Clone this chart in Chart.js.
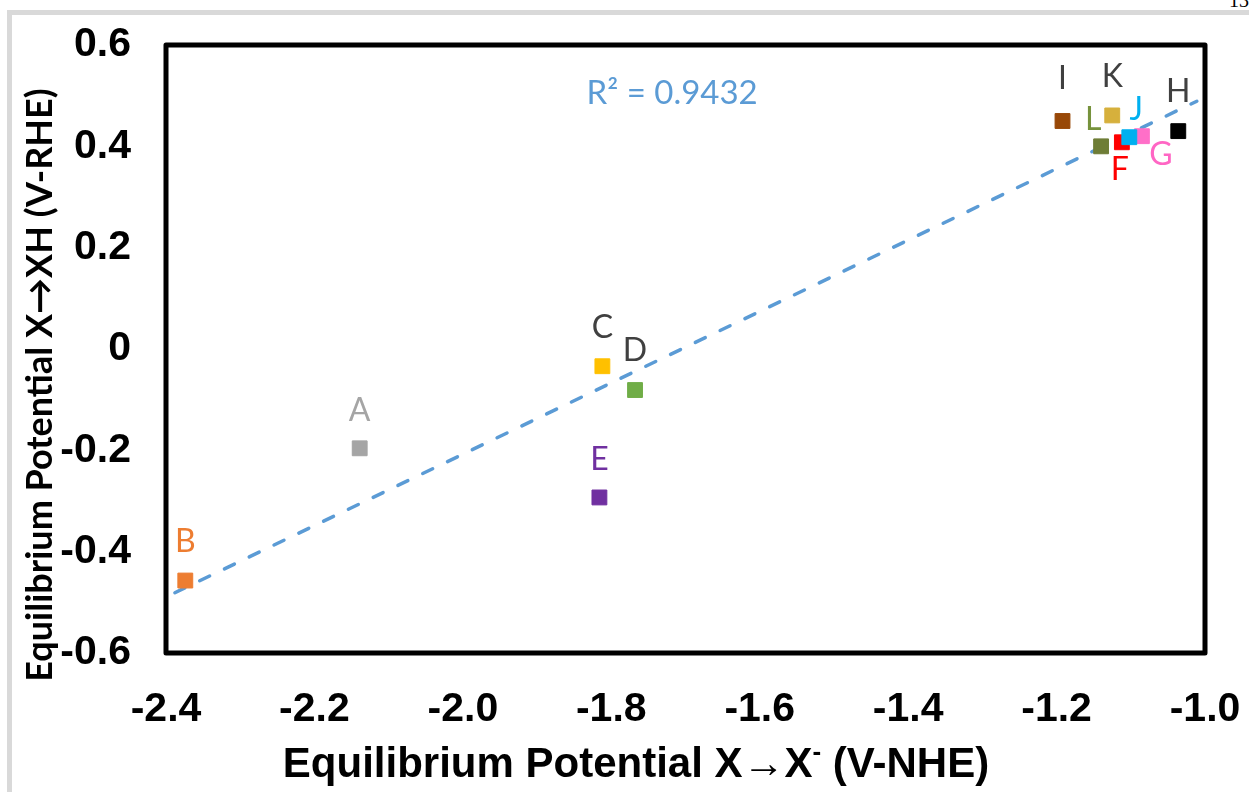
<!DOCTYPE html>
<html>
<head>
<meta charset="utf-8">
<script src="https://cdn.jsdelivr.net/npm/chart.js@4.4.0/dist/chart.umd.min.js"></script>
<style>
  html, body { margin: 0; padding: 0; background: #fff; overflow: hidden; }
  #frame { position: absolute; left: 7px; top: 10px; width: 1300px; height: 900px; border: 5px solid #d9d9d9; }
  #pageno { position: absolute; left: 1229px; top: -11px; font: 20px 'Liberation Serif', serif; color: #000; }
  #chart { position: absolute; left: 0; top: 0; }
</style>
</head>
<body>
<div id="frame"></div>
<div id="pageno">13</div>
<canvas id="chart" width="1249" height="792"></canvas>
<script>
// points
const pointNames = ['A', 'B', 'C', 'D', 'E', 'F', 'G', 'H', 'I', 'J', 'K', 'L'];
const xNHE = [-2.139, -2.374, -1.812, -1.768, -1.816, -1.112, -1.085, -1.036, -1.192, -1.102, -1.125, -1.140];
const yRHE = [-0.196, -0.457, -0.034, -0.081, -0.293, 0.408, 0.420, 0.430, 0.450, 0.418, 0.461, 0.400];
const pointColors = ['#a5a5a5', '#ed7d31', '#ffc000', '#70ad47', '#7030a0', '#ff0000',
                     '#ff6fc8', '#000000', '#984807', '#00b0f0', '#d6b03c', '#6e7d36'];
const labelColors = ['#a5a5a5', '#ed7d31', '#404040', '#404040', '#7030a0', '#ff0000',
                     '#ff66c4', '#404040', '#404040', '#00b0f0', '#404040', '#76923c'];
// label offsets from the marker, px
const labelOffsets = [[0, -38], [0, -39], [0, -39], [0, -39], [0, -38], [-2, 27],
                      [19, 18], [0, -39], [0, -42], [7, -28], [0, -39], [-8, -27]];

// linear trendline ends
const trendX = [-2.388, -1.011];
const trendY = [-0.481, 0.489];
const r2Text = 'R\u00b2 = 0.9432';

const xTitle = ['Equilibrium Potential X\u2192X', '-', ' (V-NHE)'];
const yTitle = 'Equilibrium Potential X\u2192XH (V-RHE)';

const fmt = v => {
  const r = Math.round(v * 10) / 10;
  return r === 0 ? '0' : r.toFixed(1);
};

const extras = {
  id: 'extras',
  afterDatasetsDraw(chart) {
    const ctx = chart.ctx;
    const {left, right, top, bottom} = chart.chartArea;
    ctx.save();
    // plot frame
    ctx.strokeStyle = '#000';
    ctx.lineWidth = 5;
    ctx.lineJoin = 'round';
    ctx.strokeRect(left, top, right - left, bottom - top);

    // point labels
    const meta = chart.getDatasetMeta(0);
    ctx.font = '32px Lato, "Open Sans", sans-serif';
    ctx.textAlign = 'center';
    ctx.textBaseline = 'middle';
    meta.data.forEach((el, i) => {
      ctx.fillStyle = labelColors[i];
      ctx.fillText(pointNames[i], el.x + labelOffsets[i][0], el.y + labelOffsets[i][1]);
    });

    // R^2
    ctx.font = '33px Lato, "Open Sans", sans-serif';
    ctx.fillStyle = '#5b9bd5';
    ctx.fillText(r2Text, chart.scales.x.getPixelForValue(-1.718), chart.scales.y.getPixelForValue(0.505));

    // x title with superscript minus
    ctx.fillStyle = '#000';
    ctx.textAlign = 'left';
    const big = 'bold 42px "Liberation Sans", Arial, sans-serif';
    const small = 'bold 26px "Liberation Sans", Arial, sans-serif';
    ctx.font = big;
    const w0 = ctx.measureText(xTitle[0]).width;
    const w2 = ctx.measureText(xTitle[2]).width;
    ctx.font = small;
    const w1 = ctx.measureText(xTitle[1]).width;
    let x0 = 636 - (w0 + w1 + w2) / 2;
    const ty = 765;
    ctx.font = big;
    ctx.fillText(xTitle[0], x0, ty);
    ctx.font = small;
    ctx.fillText(xTitle[1], x0 + w0, ty - 12);
    ctx.font = big;
    ctx.fillText(xTitle[2], x0 + w0 + w1, ty);

    // y title
    ctx.translate(40, 385);
    ctx.rotate(-Math.PI / 2);
    ctx.textAlign = 'center';
    ctx.font = 'bold 36px Lato, "Open Sans", sans-serif';
    ctx.fillText(yTitle, 0, 0);
    ctx.restore();
  }
};

new Chart(document.getElementById('chart'), {
  type: 'scatter',
  data: {
    datasets: [
      {
        data: xNHE.map((x, i) => ({x, y: yRHE[i]})),
        pointStyle: 'rect',
        pointRadius: 10.5,
        pointBorderWidth: 1,
        pointBackgroundColor: pointColors,
        pointBorderColor: pointColors
      },
      {
        data: trendX.map((x, i) => ({x, y: trendY[i]})),
        showLine: true,
        pointRadius: 0,
        borderColor: '#5b9bd5',
        borderWidth: 3.5,
        borderDash: [11, 16.5],
        borderCapStyle: 'round'
      }
    ]
  },
  options: {
    responsive: false,
    animation: false,
    layout: { padding: { top: 45, right: 44, left: 0, bottom: 0 } },
    plugins: { legend: { display: false }, tooltip: { enabled: false } },
    scales: {
      x: {
        min: -2.4, max: -1.0,
        grid: { display: false },
        border: { display: false },
        ticks: {
          stepSize: 0.2, padding: 24, color: '#000',
          font: { family: '"Liberation Sans", Arial, sans-serif', size: 41, weight: 'bold' },
          callback: v => fmt(v)
        },
        afterFit: s => { s.height = 139; s.paddingLeft = 0; s.paddingRight = 0; }
      },
      y: {
        min: -0.6, max: 0.6,
        grid: { display: false },
        border: { display: false },
        ticks: {
          stepSize: 0.2, padding: 27, color: '#000',
          font: { family: '"Liberation Sans", Arial, sans-serif', size: 41, weight: 'bold' },
          callback: v => fmt(v)
        },
        afterFit: s => { s.width = 166; s.paddingTop = 0; s.paddingBottom = 0; }
      }
    }
  },
  plugins: [extras]
});
</script>
</body>
</html>
